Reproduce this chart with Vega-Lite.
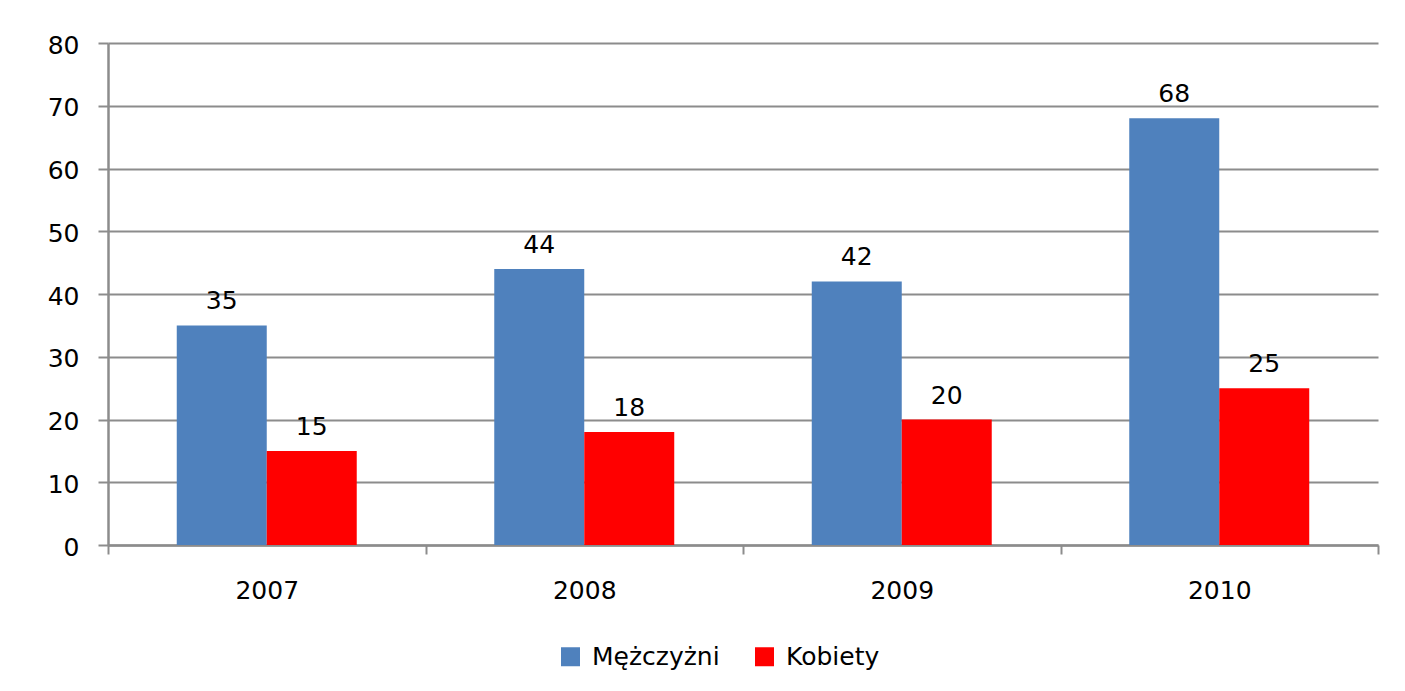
{
  "$schema": "https://vega.github.io/schema/vega-lite/v6.json",
  "width": 1270,
  "height": 502,
  "autosize": {"type": "none"},
  "padding": {"left": 108, "top": 43, "right": 27, "bottom": 146},
  "background": "white",
  "config": {
    "view": {"stroke": null},
    "font": "DejaVu Sans",
    "text": {"font": "DejaVu Sans"}
  },
  "data": {
    "values": [
      {"rok": "2007", "plec": "Mężczyżni", "wartosc": 35},
      {"rok": "2007", "plec": "Kobiety", "wartosc": 15},
      {"rok": "2008", "plec": "Mężczyżni", "wartosc": 44},
      {"rok": "2008", "plec": "Kobiety", "wartosc": 18},
      {"rok": "2009", "plec": "Mężczyżni", "wartosc": 42},
      {"rok": "2009", "plec": "Kobiety", "wartosc": 20},
      {"rok": "2010", "plec": "Mężczyżni", "wartosc": 68},
      {"rok": "2010", "plec": "Kobiety", "wartosc": 25}
    ]
  },
  "encoding": {
    "x": {
      "field": "rok",
      "type": "nominal",
      "scale": {"paddingInner": 0, "paddingOuter": 0},
      "axis": {
        "title": null,
        "labelAngle": 0,
        "labelFont": "DejaVu Sans",
        "labelFontSize": 25,
        "labelColor": "#000000",
        "labelPadding": 24,
        "tickBand": "extent",
        "tickSize": 9,
        "tickWidth": 2,
        "tickColor": "#8c8c8c",
        "domainColor": "#8c8c8c",
        "domainWidth": 2.5,
        "grid": false
      }
    },
    "xOffset": {
      "field": "plec",
      "type": "nominal",
      "sort": ["Mężczyżni", "Kobiety"],
      "scale": {"paddingInner": 0, "paddingOuter": 0.764}
    },
    "y": {
      "field": "wartosc",
      "type": "quantitative",
      "scale": {"domain": [0, 80], "nice": false},
      "axis": {
        "title": null,
        "values": [0, 10, 20, 30, 40, 50, 60, 70, 80],
        "labelFont": "DejaVu Sans",
        "labelFontSize": 25,
        "labelColor": "#000000",
        "labelPadding": 19,
        "labelOffset": 2,
        "tickSize": 10,
        "tickWidth": 2,
        "tickColor": "#8c8c8c",
        "domainColor": "#8c8c8c",
        "domainWidth": 2.5,
        "grid": true,
        "gridColor": "#8c8c8c",
        "gridWidth": 2
      }
    }
  },
  "layer": [
    {
      "mark": {"type": "bar"},
      "encoding": {
        "color": {
          "field": "plec",
          "type": "nominal",
          "sort": ["Mężczyżni", "Kobiety"],
          "scale": {"domain": ["Mężczyżni", "Kobiety"], "range": ["#4F81BD", "#FF0000"]},
          "legend": {
            "title": null,
            "orient": "none",
            "direction": "horizontal",
            "legendX": 450,
            "legendY": 601,
            "padding": 0,
            "symbolType": "square",
            "symbolSize": 361,
            "symbolStrokeWidth": 0,
            "labelFont": "DejaVu Sans",
            "labelFontSize": 25,
            "labelColor": "#000000",
            "labelOffset": 9,
            "columnPadding": 32
          }
        }
      }
    },
    {
      "mark": {"type": "text", "baseline": "alphabetic", "dy": -16, "fontSize": 25, "font": "DejaVu Sans", "color": "#000000"},
      "encoding": {
        "text": {"field": "wartosc", "type": "quantitative"}
      }
    }
  ]
}
